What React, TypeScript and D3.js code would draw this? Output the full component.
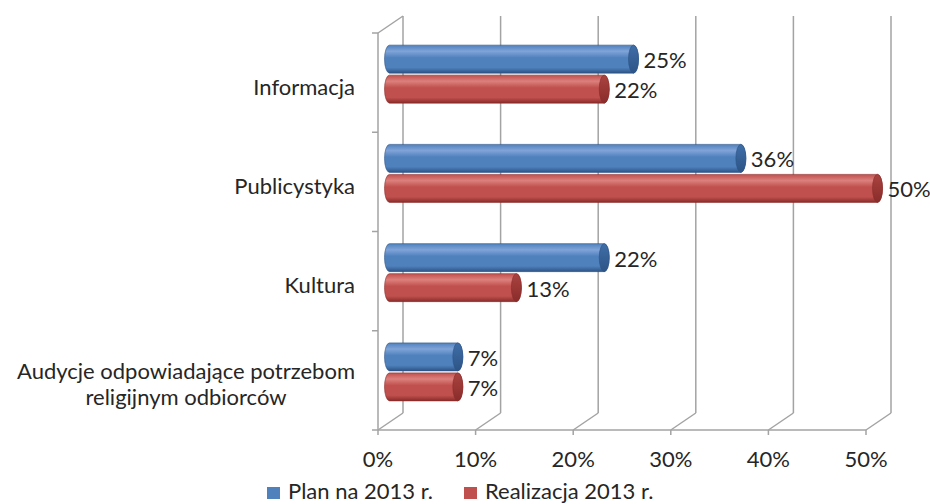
import React from 'react';
import * as d3 from 'd3';

const categories = [
  'Informacja',
  'Publicystyka',
  'Kultura',
  'Audycje odpowiadające potrzebom\nreligijnym odbiorców',
];
const planValues = [0.25, 0.36, 0.22, 0.07];
const realValues = [0.22, 0.5, 0.13, 0.07];
const tickValues = [0, 0.1, 0.2, 0.3, 0.4, 0.5];
const seriesNames = ['Plan na 2013 r.', 'Realizacja 2013 r.'];

const W = 930;
const H = 504;
const FONT = 'Lato, "Open Sans", sans-serif';
const FS = 22;
const TEXT = '#262626';
const GRID = '#a3a3a3';

// depth of the fake 3D box
const DX = 25;
const DY = -17;

const colors = [
  { light: '#80a4d8', base: '#4f81bd', dark: '#2d5486', cap: '#3f6ea8' },
  { light: '#dc807d', base: '#c0504d', dark: '#8a2c2a', cap: '#a94340' },
];

let ctx: CanvasRenderingContext2D | null = null;
const measure = (s: string) => {
  if (!ctx) ctx = document.createElement('canvas').getContext('2d');
  if (!ctx) return s.length * FS * 0.5;
  ctx.font = `${FS}px ${FONT}`;
  return ctx.measureText(s).width;
};

const App = () => {
  const x = d3.scaleLinear().domain([0, 0.5]).range([378, 866]);
  const y = d3.scaleBand().domain(categories).range([33, 430]).paddingInner(0).paddingOuter(0);
  const barH = 28;
  const gap = 2;
  const rx = 5;
  const labelRight = 355;

  const cylinder = (v: number, cy: number, s: number, key: string) => {
    const x0 = x(0) + DX / 2 - 1;
    const x1 = x(v) + DX / 2 - 1;
    const top = cy - barH / 2;
    const bot = cy + barH / 2;
    const ry = barH / 2;
    const body = `M${x0},${top} L${x1},${top} A${rx},${ry} 0 0 1 ${x1},${bot} L${x0},${bot} A${rx},${ry} 0 0 1 ${x0},${top} Z`;
    return (
      <g key={key}>
        <path d={body} fill={`url(#grad${s})`} stroke={colors[s].dark} strokeWidth={0.6} />
        <ellipse cx={x1} cy={cy} rx={rx} ry={ry} fill={`url(#cap${s})`} stroke={colors[s].dark} strokeWidth={0.6} />
      </g>
    );
  };

  const baseY = 430;
  const topY = 33;

  return (
    <svg
      width={W}
      height={H}
      viewBox={`0 0 ${W} ${H}`}
      style={{ position: 'absolute', left: 0, top: 0, background: '#fff', fontFamily: FONT }}
    >
      <defs>
        {colors.map((c, i) => (
          <linearGradient key={i} id={`grad${i}`} x1="0" y1="0" x2="0" y2="1">
            <stop offset="0%" stopColor={c.base} />
            <stop offset="22%" stopColor={c.light} />
            <stop offset="45%" stopColor={c.base} />
            <stop offset="80%" stopColor={c.base} />
            <stop offset="100%" stopColor={c.dark} />
          </linearGradient>
        ))}
        {colors.map((c, i) => (
          <linearGradient key={`c${i}`} id={`cap${i}`} x1="0" y1="0" x2="0" y2="1">
            <stop offset="0%" stopColor={c.cap} />
            <stop offset="100%" stopColor={c.dark} />
          </linearGradient>
        ))}
      </defs>

      {/* back wall gridlines */}
      {tickValues.map((t) => (
        <line key={`bg${t}`} x1={x(t) + DX} x2={x(t) + DX} y1={topY + DY} y2={baseY + DY} stroke={GRID} strokeWidth={1.5} />
      ))}
      {/* floor diagonals */}
      {tickValues.map((t) => (
        <line key={`fd${t}`} x1={x(t)} x2={x(t) + DX} y1={baseY} y2={baseY + DY} stroke={GRID} strokeWidth={1.5} />
      ))}
      {/* left wall */}
      <line x1={x(0)} x2={x(0)} y1={topY} y2={baseY} stroke={GRID} strokeWidth={1.5} />
      <line x1={x(0)} x2={x(0) + DX} y1={topY} y2={topY + DY} stroke={GRID} strokeWidth={1.5} />
      {[...categories.map((c) => y(c) as number), baseY].map((v, i) => (
        <line key={`lt${i}`} x1={x(0) - 6} x2={x(0)} y1={v} y2={v} stroke={GRID} strokeWidth={1.5} />
      ))}
      {/* front floor edge */}
      <line x1={x(0)} x2={x(0.5)} y1={baseY} y2={baseY} stroke={GRID} strokeWidth={1.5} />
      {tickValues.map((t) => (
        <line key={`ft${t}`} x1={x(t)} x2={x(t)} y1={baseY} y2={baseY + 5} stroke={GRID} strokeWidth={1.5} />
      ))}

      {/* bars */}
      {categories.map((c, i) => {
        const cy = (y(c) as number) + y.bandwidth() / 2 + DY / 2;
        const cPlan = cy - gap / 2 - barH / 2;
        const cReal = cy + gap / 2 + barH / 2;
        return (
          <g key={c}>
            {cylinder(planValues[i], cPlan, 0, 'p')}
            {cylinder(realValues[i], cReal, 1, 'r')}
            <text x={x(planValues[i]) + DX / 2 + rx + 4} y={cPlan + 9} fontSize={FS} fill={TEXT}>
              {d3.format('.0%')(planValues[i])}
            </text>
            <text x={x(realValues[i]) + DX / 2 + rx + 4} y={cReal + 9} fontSize={FS} fill={TEXT}>
              {d3.format('.0%')(realValues[i])}
            </text>
          </g>
        );
      })}

      {/* category labels */}
      {categories.map((c) => {
        const lines = c.split('\n');
        const bc = (y(c) as number) + y.bandwidth() / 2;
        const lh = 26;
        const first = bc + 12 - ((lines.length - 1) * lh) / 2;
        if (lines.length === 1) {
          return (
            <text key={c} x={labelRight} y={first} textAnchor="end" fontSize={FS} fill={TEXT}>
              {c}
            </text>
          );
        }
        const wMax = Math.max(...lines.map(measure));
        const cx = labelRight - wMax / 2;
        return (
          <text key={c} fontSize={FS} fill={TEXT} textAnchor="middle">
            {lines.map((l, j) => (
              <tspan key={j} x={cx} y={first + j * lh}>
                {l}
              </tspan>
            ))}
          </text>
        );
      })}

      {/* x tick labels */}
      {tickValues.map((t) => (
        <text key={`tl${t}`} x={x(t)} y={467} textAnchor="middle" fontSize={FS} fill={TEXT}>
          {d3.format('.0%')(t)}
        </text>
      ))}

      {/* legend */}
      {seriesNames.map((s, i) => {
        const lx = [267, 464][i];
        return (
          <g key={s}>
            <rect x={lx} y={487} width={13} height={12} fill={colors[i].base} />
            <text x={lx + 21} y={499} fontSize={FS} fill={TEXT}>
              {s}
            </text>
          </g>
        );
      })}
    </svg>
  );
};

export default App;
